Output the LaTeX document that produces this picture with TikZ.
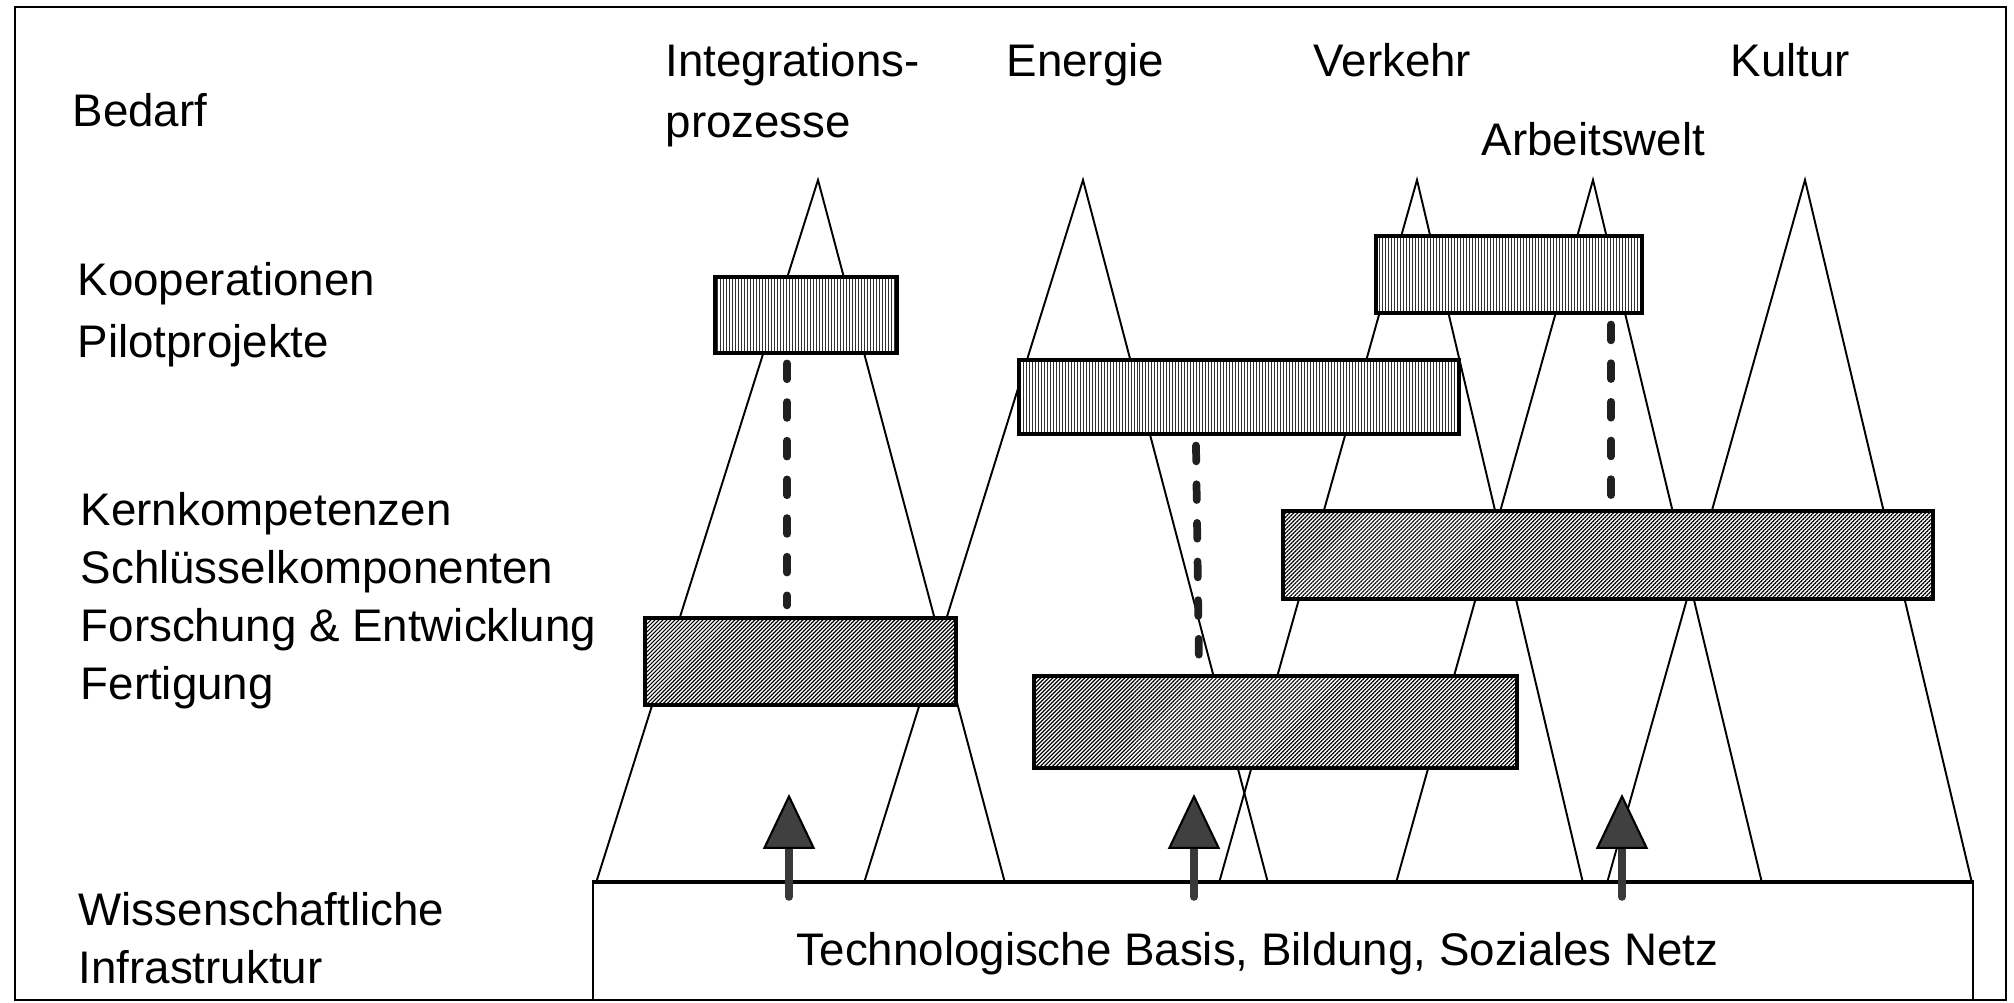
\documentclass[tikz,border=0pt]{standalone}
\usepackage{fontspec}
\setmainfont{Liberation Sans}
\usetikzlibrary{arrows.meta,patterns.meta,calc}

\tikzset{
  lbl/.style={anchor=base west, inner sep=0pt, font=\fontsize{13pt}{16pt}\selectfont},
  peak/.style={line width=0.55pt},
  pilotbox/.style={draw, line width=0.9pt, inner sep=0pt, preaction={fill=white},
    pattern={Lines[angle=90,distance=0.03cm,line width=0.009cm]}, pattern color=black!80},
  kernbox/.style={draw, line width=0.9pt, inner sep=0pt, preaction={fill=white},
    pattern={Lines[angle=45,distance=0.02828cm,line width=0.012cm]}},
  link/.style={line width=2.2pt, gray!25!black, line cap=round, dash pattern=on 4.5pt off 6.5pt},
  push/.style={line width=2.2pt, gray!45!black, line cap=round,
    -{Triangle[length=5.5mm,width=5.2mm,line width=0.6pt,fill=gray!50!black,color=black]}},
}

\begin{document}
\begin{tikzpicture}
            \useasboundingbox (0,0) rectangle (20.14,10.03);
            \draw[line width=0.7pt] (0.15,0.03) rectangle (20.06,9.96);

            \foreach \a/\l/\r in {8.18/5.96/10.05, 10.83/8.64/12.68, 14.17/12.19/15.83, 15.93/13.96/17.62, 18.05/16.07/19.72}
              \draw[peak] (\l,1.20) -- (\a,8.23) -- (\r,1.20);

            \coordinate (c1) at (7.87,0);
            \coordinate (c2) at (11.96,0);
            \coordinate (c3) at (16.11,0);
            \coordinate (t1) at (7.89,2.09);
            \coordinate (t2) at (11.94,2.09);
            \coordinate (t3) at (16.22,2.09);

            \node[pilotbox, minimum width=1.82cm, minimum height=0.76cm] (pilot1) at (8.06,6.88) {};
            \node[pilotbox, minimum width=4.40cm, minimum height=0.74cm] (pilot2) at (12.39,6.06) {};
            \node[pilotbox, minimum width=2.66cm, minimum height=0.77cm] (pilot3) at (15.09,7.285) {};
            \node[kernbox, minimum width=3.11cm, minimum height=0.87cm] (kern1) at (8.005,3.415) {};
            \node[kernbox, minimum width=6.50cm, minimum height=0.88cm] (kern2) at (16.08,4.48) {};
            \node[kernbox, minimum width=4.83cm, minimum height=0.92cm] (kern3) at (12.755,2.81) {};

            \draw[link] ($(c1 |- pilot1.south)+(0,-0.1)$) -- ($(c1 |- kern1.north)+(0,0.12)$);
            \draw[link] ($(c2 |- pilot2.south)+(0,-0.1)$) -- ($(c2 |- kern3.north)+(0.03,0.08)$);
            \draw[link] ($(c3 |- pilot3.south)+(0,-0.1)$) -- ($(c3 |- kern2.north)+(0,0.12)$);

            \node[draw, line width=0.6pt, inner sep=0pt, fill=white, minimum width=13.80cm, minimum height=1.17cm] (basis) at (12.83,0.615) {};
            \draw[line width=1.3pt] (basis.north west) -- (basis.north east);
            \node[lbl] (basistext) at (7.96,0.37) {Technologische Basis, Bildung, Soziales Netz};

            \draw[push] ($(t1 |- basis.north)+(0,-0.15)$) -- (t1);
            \draw[push] ($(t2 |- basis.north)+(0,-0.15)$) -- (t2);
            \draw[push] ($(t3 |- basis.north)+(0,-0.15)$) -- (t3);

            \node[lbl] (bedarf) at (0.72,8.76) {Bedarf};
            \node[lbl] (koop) at (0.77,7.07) {Kooperationen};
            \node[lbl] (pilotp) at (0.77,6.45) {Pilotprojekte};
            \foreach \txt [count=\i] in {Kernkompetenzen, Schlüsselkomponenten, Forschung \& Entwicklung, Fertigung}
              \node[lbl] (core\i) at (0.80,5.35-0.58*\i) {\txt};
            \node[lbl] (wiss) at (0.78,0.77) {Wissenschaftliche};
            \node[lbl] (infra) at (0.78,0.19) {Infrastruktur};

            \node[lbl] (integ) at (6.65,9.26) {Integrations-};
            \node[lbl] (proz) at (6.65,8.65) {prozesse};
            \node[lbl] (energie) at (10.06,9.26) {Energie};
            \node[lbl] (verkehr) at (13.13,9.26) {Verkehr};
            \node[lbl] (kultur) at (17.30,9.26) {Kultur};
            \node[lbl] (arbeit) at (14.81,8.47) {Arbeitswelt};
        \end{tikzpicture}
\end{document}
